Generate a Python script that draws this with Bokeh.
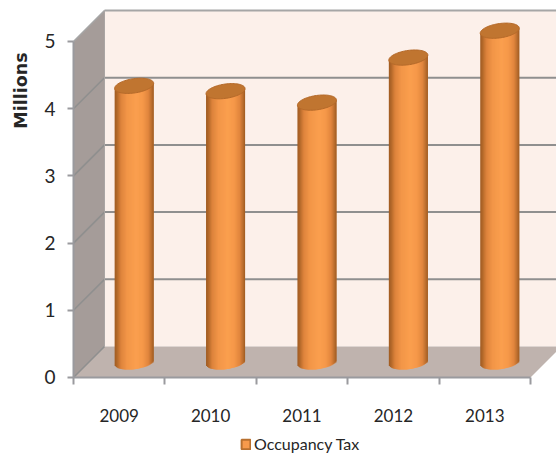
import numpy as np
from bokeh.plotting import figure
from bokeh.embed import file_html
from bokeh.resources import INLINE
from bokeh.models import (ColumnDataSource, FixedTicker, Label, Legend, LegendItem, Range1d)

years = ["2009", "2010", "2011", "2012", "2013"]
occupancy_tax = [4.11, 4.03, 3.86, 4.53, 4.93]
y_ticks = [0, 1, 2, 3, 4, 5]

# Oblique projection of the chart box, in axis units
DEPTH_X = 0.339
DEPTH_Y = 0.461
BAR_W = 0.427
CAP_B = 0.107
CAP_SLOPE = 0.175
N_STRIPS = 39

GRID = "#8f8f8f"
AXIS = "#9a9a9e"
FONT = "Lato"

# The frame fills the page; both axes sit at fixed positions inside it
X_START, X_END = -0.7987, 5.2845
Y_START, Y_END = -1.1756, 5.61
p = figure(width=556, height=456, frame_width=556, frame_height=456,
           min_border_left=0, min_border_right=0, min_border_top=0, min_border_bottom=0,
           x_range=Range1d(X_START, X_END), y_range=Range1d(Y_START, Y_END),
           output_backend="svg", toolbar_location=None,
           background_fill_color="white", border_fill_color="white")
p.outline_line_color = None
p.grid.visible = False

n = len(years)

# Box walls: side wall, back wall and floor
p.patch([0, DEPTH_X, DEPTH_X, 0], [0, DEPTH_Y, 5 + DEPTH_Y, 5],
        fill_color="#a59c99", line_color=None)
p.patch([DEPTH_X, n + DEPTH_X, n + DEPTH_X, DEPTH_X],
        [DEPTH_Y, DEPTH_Y, 5 + DEPTH_Y, 5 + DEPTH_Y],
        fill_color="#fcf0ea", line_color=None)
p.patch([0, n, n + DEPTH_X, DEPTH_X], [0, 0, DEPTH_Y, DEPTH_Y],
        fill_color="#bfb3ae", line_color=None)

# Gridlines run across the side wall and then along the back wall
for v in y_ticks:
    colour = "#a6a6a6" if v == 5 else GRID
    if v > 0:
        p.line([DEPTH_X, n + DEPTH_X], [v + DEPTH_Y] * 2, line_color=colour, line_width=2)
    p.line([0, DEPTH_X], [v, v + DEPTH_Y], line_color=colour, line_width=1.6)
p.line([DEPTH_X, DEPTH_X], [DEPTH_Y, 5 + DEPTH_Y], line_color="#a9a4a2", line_width=1)

# Horizontal shading across a cylinder, from edge to edge
shade_pos = [0.0, 0.06, 0.16, 0.32, 0.55, 0.72, 0.86, 0.95, 1.0]
shade_rgb = np.array([
    [160, 92, 34], [178, 104, 42], [222, 132, 60], [243, 150, 72], [251, 160, 79],
    [246, 153, 74], [226, 134, 62], [186, 110, 46], [160, 92, 34]], dtype=float)


def strip_colours(count):
    t = (np.arange(count) + 0.5) / count
    rgb = [np.interp(t, shade_pos, shade_rgb[:, c]) for c in range(3)]
    return ["#%02x%02x%02x" % (int(r), int(g), int(b)) for r, g, b in zip(*rgb)]


colours = strip_colours(N_STRIPS)
half = BAR_W / 2
edges = np.linspace(-half, half, N_STRIPS + 1)
step = edges[1] - edges[0]
mids = (edges[:-1] + edges[1:]) / 2
arc = CAP_B * np.sqrt(1 - (mids / half) ** 2)
tilt = CAP_SLOPE * mids
# Each strip overlaps the next so no seams show between them
right_edges = np.minimum(edges[1:] + step, half)

for i, val in enumerate(occupancy_tax):
    cx = i + 0.5 + DEPTH_X / 2 - 0.006
    base = DEPTH_Y / 2
    top = val + DEPTH_Y / 2
    src = ColumnDataSource(dict(
        left=cx + edges[:-1], right=cx + right_edges,
        bottom=base + tilt - arc, top=top + tilt, color=colours))
    p.quad(left="left", right="right", bottom="bottom", top="top", source=src,
           fill_color="color", line_color=None)
    th = np.linspace(0, 2 * np.pi, 80)
    cap_x = half * np.cos(th)
    cap_y = CAP_B * np.sin(th) + CAP_SLOPE * cap_x
    p.patch(cx + cap_x, top + cap_y, fill_color="#c07530", line_color="#b56a2a", line_width=1)

# Horizontal axis: box ticks between the categories, labels centred on them
ax = p.xaxis[0]
ax.fixed_location = 0
ax.ticker = FixedTicker(ticks=[i + 0.5 for i in range(n)], minor_ticks=list(range(n + 1)))
ax.major_label_overrides = {i + 0.5: y for i, y in enumerate(years)}
ax.bounds = (0, n)
ax.axis_line_color = AXIS
ax.axis_line_width = 2
ax.major_tick_line_color = None
ax.major_tick_in = 0
ax.major_tick_out = 0
ax.minor_tick_line_color = AXIS
ax.minor_tick_line_width = 2
ax.minor_tick_in = 0
ax.minor_tick_out = 7
ax.major_label_standoff = 25
ax.major_label_text_font = FONT
ax.major_label_text_font_size = "17px"
ax.major_label_text_color = "#262626"

ay = p.yaxis[0]
ay.fixed_location = 0
ay.ticker = FixedTicker(ticks=y_ticks)
ay.bounds = (0, 5)
ay.axis_line_color = AXIS
ay.axis_line_width = 2
ay.major_tick_line_color = AXIS
ay.major_tick_line_width = 2
ay.major_tick_in = 0
ay.major_tick_out = 6
ay.minor_tick_line_color = None
ay.major_label_standoff = 12
ay.major_label_text_font = FONT
ay.major_label_text_font_size = "19px"
ay.major_label_text_color = "#262626"

# Unit caption in the left margin, near the top of the value axis
p.add_layout(Label(x=-0.57, y=4.27, text="Millions", angle=np.pi / 2,
                   text_font="DejaVu Sans", text_font_style="bold", text_font_size="17.5px",
                   text_color="#262626", text_align="center", text_baseline="middle"))

# Legend key: a one-off quad kept left of the visible range, so only its key shows
swatch = p.quad(left=[X_START - 2], right=[X_START - 1], bottom=[0], top=[1],
                fill_color="#f79a4c", line_color="#b8702f", line_width=2)
legend = Legend(items=[LegendItem(label="Occupancy Tax", renderers=[swatch])],
                location=(240, 3), orientation="horizontal",
                background_fill_alpha=0, border_line_color=None,
                glyph_width=11, glyph_height=12, label_standoff=3,
                padding=0, margin=0, spacing=0,
                label_text_font=FONT, label_text_font_size="16px", label_text_color="#262626")
p.add_layout(legend, "center")

open("out.html", "w").write(file_html(p, INLINE))
